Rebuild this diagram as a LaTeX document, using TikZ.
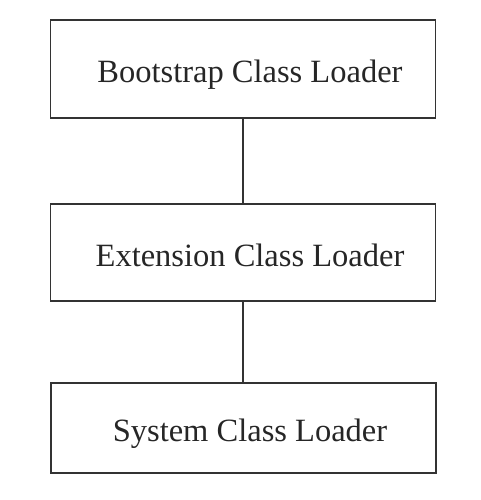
\documentclass[tikz,border=0pt]{standalone}
\usepackage{fontspec}
\setmainfont{Liberation Serif}
\usepackage{tikz}
\usetikzlibrary{positioning}

\begin{document}
\begin{tikzpicture}[x=1pt,y=-1pt,
  loader/.style={draw=black!80, line width=1.4pt, minimum width=385pt,
    inner sep=0pt, text height=30pt, text depth=3pt,
    font=\fontsize{32.5}{36}\selectfont, text=black!85},
  link/.style={draw=black!80, line width=1.4pt}]
\useasboundingbox (0,0) rectangle (480,500);
% class loader hierarchy
\node[loader, minimum height=98pt] (boot) at (243,69) {\hspace{14pt}Bootstrap Class Loader};
\node[loader, minimum height=97pt] (ext) at (243,252.5) {\hspace{14pt}Extension Class Loader};
\node[loader, minimum height=90pt] (sys) at (243.5,428) {\hspace{13pt}System Class Loader};
\draw[link] (boot.south) -- (ext.north);
\draw[link] (ext.south) -- (ext.south |- sys.north);
\end{tikzpicture}
\end{document}
